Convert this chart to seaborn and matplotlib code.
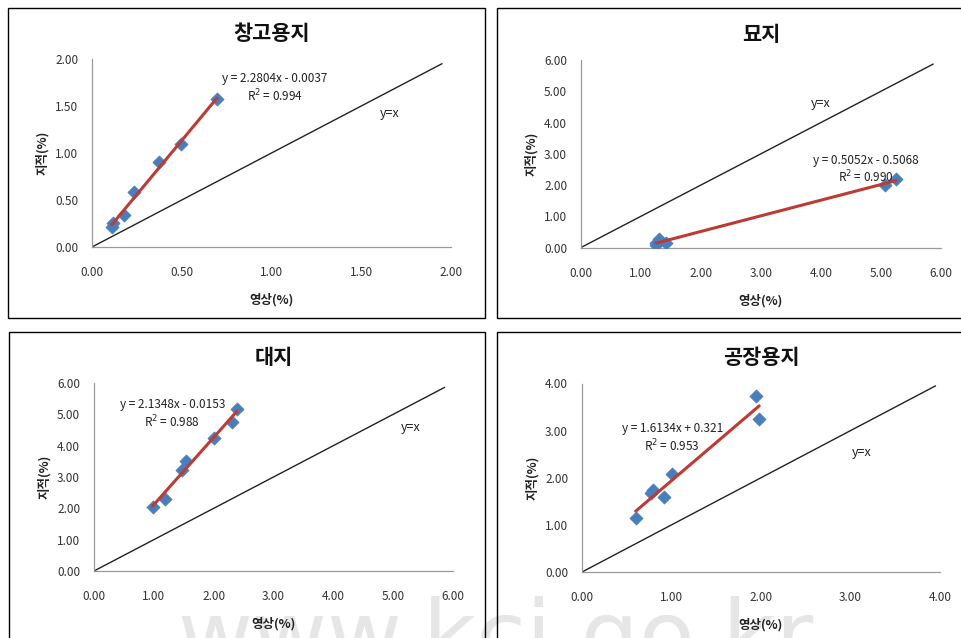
import numpy as np
import pandas as pd
import matplotlib
matplotlib.use("Agg")
import matplotlib.pyplot as plt
from matplotlib.patches import Rectangle
import seaborn as sns

sns.set_theme(style="white")
plt.rcParams['font.family'] = ['Noto Sans CJK KR', 'DejaVu Sans']

# ---- data ----
titles = ["창고용지", "묘지", "대지", "공장용지"]

x1 = [0.11, 0.115, 0.18, 0.236, 0.372, 0.498, 0.695]
y1 = [0.213, 0.256, 0.337, 0.586, 0.899, 1.098, 1.57]

x2 = [1.25, 1.30, 1.25, 1.41, 5.07, 5.25]
y2 = [0.16, 0.28, 0.07, 0.15, 2.00, 2.19]

x3 = [0.98, 1.18, 1.47, 1.53, 2.00, 2.31, 2.39]
y3 = [2.04, 2.31, 3.21, 3.51, 4.26, 4.76, 5.16]

x4 = [0.60, 0.775, 0.797, 0.916, 1.01, 1.94, 1.98]
y4 = [1.15, 1.685, 1.73, 1.59, 2.09, 3.73, 3.24]

equations = ["y = 2.2804x - 0.0037", "y = 0.5052x - 0.5068",
             "y = 2.1348x - 0.0153", "y = 1.6134x + 0.321"]
r2_texts = ["R$^2$ = 0.994", "R$^2$ = 0.990", "R$^2$ = 0.988", "R$^2$ = 0.953"]
axis_max = [2.0, 6.0, 6.0, 4.0]
tick_step = [0.5, 1.0, 1.0, 1.0]
identity_end = [1.95, 5.87, 5.86, 3.95]
eq_pos = [(1.02, 1.79, 1.61), (4.75, 2.80, 2.27), (1.31, 5.31, 4.77), (1.01, 3.04, 2.68)]
yx_pos = [(1.66, 1.42), (4.0, 4.62), (5.29, 4.57), (3.12, 2.53)]
watermark = "www.kci.go.kr"

xs = [x1, x2, x3, x4]
ys = [y1, y2, y3, y4]

W, H = 961, 638
fig = plt.figure(figsize=(W / 100, H / 100), dpi=100)
fig.patch.set_facecolor("white")

# axes rectangles in pixels: left, top(y=max), right, bottom(y=0)
ax_px = [(92, 59, 451, 247), (581, 60, 941, 247.5),
         (94, 383, 453, 571), (582, 383.5, 940, 572)]
box_px = [(8, 8, 485, 318), (497, 8, 965, 318),
          (9, 332, 485, 645), (497, 332, 965, 645)]

for bx in box_px:
    l, t, r, b = bx
    fig.patches.append(Rectangle((l / W, 1 - b / H), (r - l) / W, (b - t) / H,
                                 transform=fig.transFigure, fill=False,
                                 edgecolor="black", linewidth=1.0, zorder=0))

# watermark (faint, cut off at bottom edge as in the reference)
fig.text(0.515, -0.075, watermark, ha="center", va="bottom", fontsize=66,
         color="#e6e6e6", zorder=-1, family=["DejaVu Sans"])

marker_color = "#4A7EBB"
trend_color = "#BE3A34"

for i in range(4):
    l, t, r, b = ax_px[i]
    ax = fig.add_axes([l / W, 1 - b / H, (r - l) / W, (b - t) / H])
    ax.set_facecolor("none")
    df = pd.DataFrame({"x": xs[i], "y": ys[i]})

    # identity line
    idf = pd.DataFrame({"x": [0, identity_end[i]], "y": [0, identity_end[i]]})
    sns.lineplot(data=idf, x="x", y="y", ax=ax, color="#222222", linewidth=1.0, zorder=2)

    sns.scatterplot(data=df, x="x", y="y", ax=ax, marker="D", s=45,
                    color=marker_color, edgecolor=marker_color, linewidth=0.5, zorder=3)
    sns.regplot(data=df, x="x", y="y", ax=ax, scatter=False, ci=None, truncate=True,
                line_kws=dict(color=trend_color, linewidth=2.2, zorder=4))

    m = axis_max[i]
    ax.set_xlim(0, m)
    ax.set_ylim(0, m)
    ticks = np.arange(0, m + 1e-9, tick_step[i])
    ax.set_xticks(ticks)
    ax.set_yticks(ticks)
    ax.set_xticklabels([f"{v:.2f}" for v in ticks])
    ax.set_yticklabels([f"{v:.2f}" for v in ticks])
    ax.tick_params(axis="both", direction="in", length=4, width=0.8, color="#888888",
                   labelsize=8.5, labelcolor="#333333")
    ax.tick_params(axis="x", pad=14)
    ax.tick_params(axis="y", pad=10)
    for s in ["top", "right"]:
        ax.spines[s].set_visible(False)
    for s in ["left", "bottom"]:
        ax.spines[s].set_color("#999999")
        ax.spines[s].set_linewidth(0.9)
    ax.set_xlabel("영상(%)", fontsize=9, fontweight="bold", color="#222222", labelpad=10)
    ax.set_ylabel("지적(%)", fontsize=9, fontweight="bold", color="#222222", labelpad=4)
    ax.set_title(titles[i], fontsize=15, fontweight="bold", color="#111111", pad=14)

    ex, ey, ry = eq_pos[i]
    ax.text(ex, ey, equations[i], ha="center", va="center", fontsize=8.5, color="#222222")
    ax.text(ex, ry, r2_texts[i], ha="center", va="center", fontsize=8.5, color="#222222")
    ax.text(yx_pos[i][0], yx_pos[i][1], "y=x", ha="center", va="center",
            fontsize=9, color="#222222")

fig.savefig("out.png", dpi=100, facecolor="white")
